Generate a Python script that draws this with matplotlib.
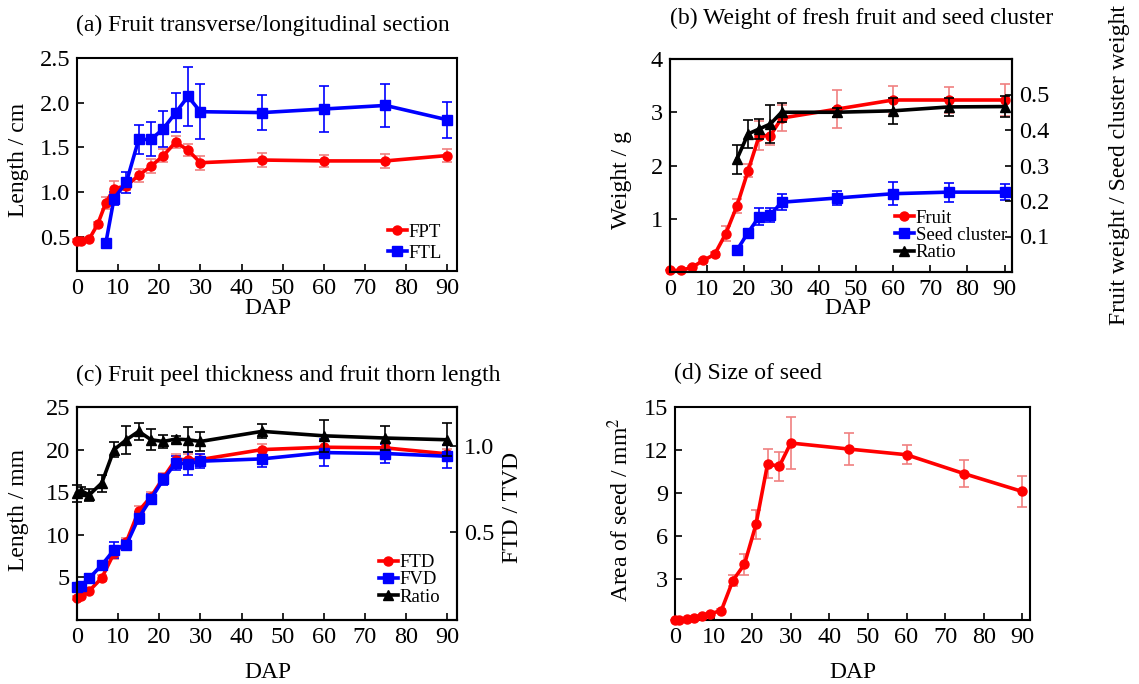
import matplotlib
matplotlib.use("Agg")
import matplotlib.pyplot as plt

plt.rcParams["font.family"] = ["Liberation Serif", "DejaVu Serif"]
plt.rcParams["mathtext.fontset"] = "stix"

RED = "#ff0000"
RED_ERR = "#f08080"
BLUE = "#0000ff"
BLACK = "#000000"

# (a) fruit transverse / longitudinal section
dap_fpt = [0, 1, 3, 5, 7, 9, 12, 15, 18, 21, 24, 27, 30, 45, 60, 75, 90]
fpt = [0.46, 0.46, 0.48, 0.64, 0.88, 1.04, 1.07, 1.19, 1.29, 1.41, 1.56, 1.47, 1.33, 1.36, 1.35, 1.35, 1.41]
fpt_err = [0.02, 0.02, 0.02, 0.03, 0.065, 0.09, 0.05, 0.07, 0.08, 0.075, 0.07, 0.07, 0.08, 0.08, 0.07, 0.08, 0.07]
dap_ftl = [7, 9, 12, 15, 18, 21, 24, 27, 30, 45, 60, 75, 90]
ftl = [0.43, 0.93, 1.11, 1.59, 1.59, 1.71, 1.89, 2.07, 1.90, 1.89, 1.93, 1.97, 1.81]
ftl_err = [0.03, 0.07, 0.12, 0.16, 0.19, 0.2, 0.22, 0.33, 0.31, 0.2, 0.26, 0.24, 0.2]

# (b) weight of fresh fruit and seed cluster
dap_fruit = [0, 3, 6, 9, 12, 15, 18, 21, 24, 27, 30, 45, 60, 75, 90]
fruit = [0.03, 0.03, 0.09, 0.22, 0.33, 0.72, 1.24, 1.90, 2.56, 2.56, 2.89, 3.06, 3.23, 3.23, 3.23]
fruit_err = [0, 0, 0.02, 0.03, 0.04, 0.14, 0.13, 0.12, 0.27, 0.18, 0.25, 0.35, 0.27, 0.24, 0.3]
dap_seed = [18, 21, 24, 27, 30, 45, 60, 75, 90]
seed = [0.41, 0.74, 1.04, 1.07, 1.31, 1.39, 1.47, 1.50, 1.50]
seed_err = [0.07, 0.06, 0.16, 0.13, 0.15, 0.14, 0.22, 0.18, 0.15]
ratio_b = [0.318, 0.389, 0.403, 0.417, 0.45, 0.45, 0.454, 0.465, 0.466]
ratio_b_err = [0.041, 0.04, 0.028, 0.054, 0.027, 0.012, 0.036, 0.026, 0.03]

# (c) fruit peel thickness and fruit thorn length
dap_c = [0, 1, 3, 6, 9, 12, 15, 18, 21, 24, 27, 30, 45, 60, 75, 90]
ftd = [2.58, 2.86, 3.44, 4.92, 7.84, 9.17, 12.8, 14.47, 16.7, 18.83, 18.83, 18.83, 20.0, 20.28, 20.2, 19.5]
ftd_err = [0.2, 0.2, 0.3, 0.4, 0.7, 0.5, 0.6, 0.5, 0.5, 0.6, 0.6, 0.6, 0.6, 0.7, 0.4, 0.6]
fvd = [3.83, 4.03, 4.92, 6.44, 8.23, 8.82, 12.0, 14.24, 16.5, 18.44, 18.33, 18.64, 18.91, 19.65, 19.54, 19.22]
fvd_err = [0.2, 0.2, 0.2, 0.5, 0.9, 0.6, 0.7, 0.6, 0.6, 0.8, 1.35, 0.8, 1.0, 1.6, 1.1, 1.35]
ratio_c = [0.724, 0.737, 0.714, 0.782, 0.977, 1.035, 1.084, 1.035, 1.025, 1.039, 1.035, 1.025, 1.084, 1.058, 1.045, 1.035]
ratio_c_err = [0.05, 0.025, 0.035, 0.05, 0.043, 0.083, 0.05, 0.06, 0.036, 0.02, 0.074, 0.053, 0.04, 0.092, 0.068, 0.097]

# (d) size of seed
dap_d = [0, 1, 3, 5, 7, 9, 12, 15, 18, 21, 24, 27, 30, 45, 60, 75, 90]
seed_area = [0.1, 0.1, 0.15, 0.22, 0.38, 0.53, 0.76, 2.86, 4.0, 6.8, 11.03, 10.84, 12.48, 12.06, 11.66, 10.33, 9.09]
seed_area_err = [0.02, 0.02, 0.03, 0.05, 0.06, 0.08, 0.1, 0.4, 0.75, 1.0, 1.0, 1.0, 1.85, 1.1, 0.67, 0.93, 1.07]

W, H = 1139, 684
fig = plt.figure(figsize=(W / 100, H / 100), dpi=100)


def box(l, t, r, b):
    return [l / W, 1 - b / H, (r - l) / W, (b - t) / H]


def series(ax, x, y, e, color, ecolor, marker, ms=6.5, label=None):
    c = ax.errorbar(x, y, yerr=e, color=color, ecolor=ecolor, marker=marker, ms=ms,
                    lw=2.6, elinewidth=1.2, capsize=3.5, capthick=1.2, label=label,
                    clip_on=False, zorder=3)
    return c[0]


def style(ax):
    ax.tick_params(direction="in", labelsize=17.5, length=5, width=1.2, pad=5)
    for s in ax.spines.values():
        s.set_linewidth(1.5)


def ftext(x, y, s, **kw):
    kw.setdefault("fontsize", 17)
    kw.setdefault("va", "center")
    fig.text(x / W, 1 - y / H, s, **kw)


leg_kw = dict(frameon=False, fontsize=13.5, handlelength=1.0, handletextpad=0.1,
              labelspacing=0.0, borderpad=0.1)

# ---- (a)
ax = fig.add_axes(box(77, 58, 457, 271))
h1 = series(ax, dap_fpt, fpt, fpt_err, RED, RED_ERR, "o", label="FPT")
h2 = series(ax, dap_ftl, ftl, ftl_err, BLUE, BLUE, "s", label="FTL")
ax.set_xlim(0, 92.4)
ax.set_ylim(0.12, 2.5)
ax.set_xticks(range(0, 91, 10))
ax.set_yticks([0.5, 1.0, 1.5, 2.0, 2.5])
style(ax)
leg_a = dict(leg_kw, labelspacing=0.2)
ax.legend([h1, h2], ["FPT", "FTL"], loc="lower right", bbox_to_anchor=(0.99, -0.01), **leg_a)
ftext(76, 25, "(a) Fruit transverse/longitudinal section")
ftext(268, 309, "DAP", ha="center")
ftext(19, 160, "Length / cm", ha="center", rotation=90)

# ---- (b)
ax = fig.add_axes(box(670, 59, 1012, 272))
ax2 = ax.twinx()
h1 = series(ax, dap_fruit, fruit, fruit_err, RED, RED_ERR, "o")
h2 = series(ax, dap_seed, seed, seed_err, BLUE, BLUE, "s")
h3 = series(ax2, dap_seed, ratio_b, ratio_b_err, BLACK, BLACK, "^")
ax.set_xlim(0, 92)
ax.set_ylim(0, 4)
ax.set_xticks(range(0, 91, 10))
ax.set_yticks([1, 2, 3, 4])
ax2.set_ylim(0, 0.6)
ax2.set_yticks([0.1, 0.2, 0.3, 0.4, 0.5])
style(ax)
style(ax2)
ax2.legend([h1, h2, h3], ["Fruit", "Seed cluster", "Ratio"], loc="upper left",
           bbox_to_anchor=(0.625, 0.345), **leg_kw)
ftext(670, 18, "(b) Weight of fresh fruit and seed cluster")
ftext(848, 309, "DAP", ha="center")
ftext(622, 180, "Weight / g", ha="center", rotation=90)
ftext(1120, 165, "Fruit weight / Seed cluster weight", ha="center", rotation=90)

# ---- (c)
ax = fig.add_axes(box(77, 407, 457, 620))
ax2 = ax.twinx()
h1 = series(ax, dap_c, ftd, ftd_err, RED, RED_ERR, "o")
h2 = series(ax, dap_c, fvd, fvd_err, BLUE, BLUE, "s")
h3 = series(ax2, dap_c, ratio_c, ratio_c_err, BLACK, BLACK, "^")
ax.set_xlim(0, 92.4)
ax.set_ylim(0, 25)
ax.set_xticks(range(0, 91, 10))
ax.set_yticks([5, 10, 15, 20, 25])
ax2.set_ylim(-0.016, 1.226)
ax2.set_yticks([0.5, 1.0])
style(ax)
style(ax2)
ax2.legend([h1, h2, h3], ["FTD", "FVD", "Ratio"], loc="lower right",
           bbox_to_anchor=(0.985, 0.015), **leg_kw)
ftext(76, 375, "(c) Fruit peel thickness and fruit thorn length")
ftext(268, 672, "DAP", ha="center")
ftext(19, 510, "Length / mm", ha="center", rotation=90)
ftext(513, 507, "FTD / TVD", ha="center", rotation=90)

# ---- (d)
ax = fig.add_axes(box(675, 407, 1030, 620))
series(ax, dap_d, seed_area, seed_area_err, RED, RED_ERR, "o")
ax.set_xlim(0, 92)
ax.set_ylim(0.1, 15)
ax.set_xticks(range(0, 91, 10))
ax.set_yticks([3, 6, 9, 12, 15])
style(ax)
ftext(674, 373, "(d) Size of seed")
ftext(853, 672, "DAP", ha="center")
ftext(620, 510, "Area of seed / mm$^2$", ha="center", rotation=90)

fig.savefig("out.png", dpi=100)
